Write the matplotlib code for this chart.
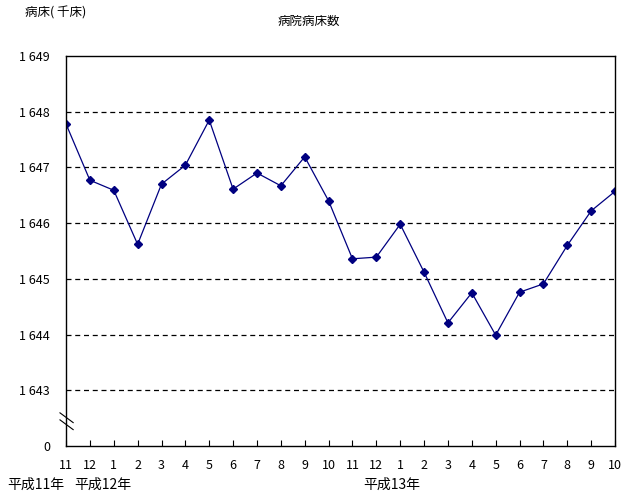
import matplotlib
matplotlib.use("Agg")
import matplotlib.pyplot as plt

plt.rcParams['font.family'] = ['Noto Sans CJK JP', 'DejaVu Sans']

# Data (thousand beds), Nov H11 .. Oct H13
months = ["11", "12", "1", "2", "3", "4", "5", "6", "7", "8", "9", "10",
          "11", "12", "1", "2", "3", "4", "5", "6", "7", "8", "9", "10"]
beds = [1647.78, 1646.77, 1646.59, 1645.62, 1646.70, 1647.04, 1647.85, 1646.61,
        1646.90, 1646.67, 1647.19, 1646.40, 1645.36, 1645.39, 1645.98, 1645.12,
        1644.21, 1644.75, 1643.99, 1644.76, 1644.91, 1645.60, 1646.22, 1646.57]
y_ticks = [1642, 1643, 1644, 1645, 1646, 1647, 1648, 1649]
y_labels = ["0", "1 643", "1 644", "1 645", "1 646", "1 647", "1 648", "1 649"]

fig = plt.figure(figsize=(6.27, 4.99), dpi=100)
ax = fig.add_axes([0.1053, 0.1062, 0.8756, 0.7816])

x = list(range(len(beds)))
ax.plot(x, beds, color="#000080", linewidth=0.9, marker="D", markersize=4,
        markerfacecolor="#000080", markeredgecolor="#000080")

ax.set_xlim(0, len(beds) - 1)
ax.set_ylim(1642, 1649)
ax.set_yticks(y_ticks)
ax.set_yticklabels(y_labels)
ax.set_xticks(x)
ax.set_xticklabels(months)

for yv in y_ticks[1:-1]:
    ax.axhline(yv, color="black", linestyle=(0, (4, 3)), linewidth=0.9, zorder=0)

ax.tick_params(axis="y", length=0, pad=11.5, labelsize=9)
ax.tick_params(axis="x", direction="in", length=4, width=0.8, pad=9, labelsize=9)
for s in ax.spines.values():
    s.set_linewidth(1.0)

# axis break marks on the left spine
trans = ax.transAxes
ax.plot([-0.011, 0.013], [0.085, 0.060], color="black", lw=0.8, transform=trans, clip_on=False)
ax.plot([-0.011, 0.013], [0.067, 0.042], color="black", lw=0.8, transform=trans, clip_on=False)

fig.text(0.040, 0.974, "病床( 千床)", fontsize=9, va="center", ha="left")
fig.text(0.492, 0.958, "病院病床数", fontsize=9, va="center", ha="center")
fig.text(0.012, 0.028, "平成11年", fontsize=10, ha="left", va="center")
fig.text(0.119, 0.028, "平成12年", fontsize=10, ha="left", va="center")
fig.text(0.625, 0.028, "平成13年", fontsize=10, ha="center", va="center")

fig.savefig("out.png", dpi=100)
